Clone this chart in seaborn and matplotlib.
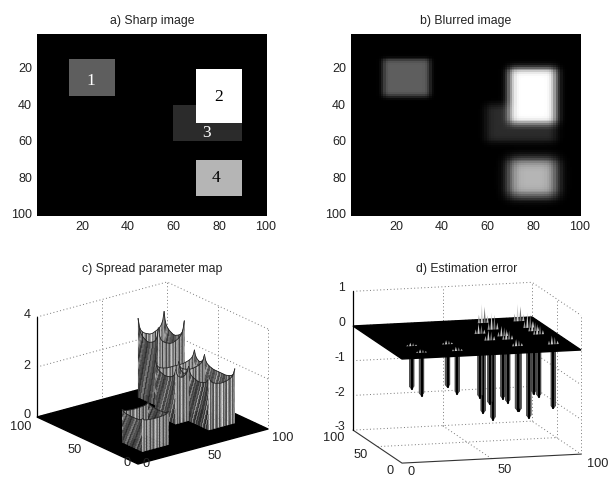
import numpy as np
import matplotlib
matplotlib.use("Agg")
import matplotlib.pyplot as plt
from matplotlib.collections import PolyCollection
import seaborn as sb

# regions of the test image: x0, x1, y0, y1
region_names = ["1", "2", "3", "4"]
region_x = [(14, 34), (69, 89), (59, 89), (69, 89)]
region_y = [(14, 34), (19, 49), (39, 59), (69, 89)]
region_gray = [0.37, 1.0, 0.17, 0.71]
region_spread = [1.25, 1.85, 1.85, 2.6]
label_pos = [(23.3, 25.6), (78.9, 34.4), (73.5, 54.2), (78, 79)]
label_color = ["white", "black", "white", "black"]

image_ticks = [20, 40, 60, 80, 100]

# walls of the spread map, far ones first: x0, y0, x1, y1, height, corner rise
walls = [
    (70, 90, 90, 90, 2.4, 0.75), (90, 70, 90, 90, 2.4, 0.75),
    (70, 70, 70, 90, 2.4, 0.75), (70, 70, 90, 70, 2.4, 0.75),
    (60, 60, 90, 60, 1.75, 0.42), (90, 50, 90, 60, 1.75, 0.42),
    (90, 20, 90, 50, 1.75, 0.42), (70, 50, 90, 50, 1.75, 0.42),
    (70, 40, 70, 50, 1.75, 0.42), (70, 20, 70, 40, 1.75, 0.42),
    (60, 40, 60, 60, 1.75, 0.42), (60, 40, 70, 40, 1.75, 0.42),
    (70, 20, 90, 20, 1.75, 0.42),
    (15, 35, 35, 35, 1.2, 0.12), (35, 15, 35, 35, 1.2, 0.12),
    (15, 15, 15, 35, 1.2, 0.12), (15, 15, 35, 15, 1.2, 0.12),
]
corner_rise = [1.0, 0.55, 0.35, 0.25, 0.18, 0.13, 0.09, 0.06, 0.03, 0.0]
front_shades = [0.85, 0.35, 0.65, 0.22, 0.8, 0.5, 0.28, 0.75, 0.3, 0.6]
side_shades = [0.2, 0.35, 0.22, 0.55, 0.15, 0.3, 0.65, 0.2, 0.4, 0.18]

# estimation error: spikes at region corners x, y, depth, peak above plane
spike_x = [15, 15, 35, 35, 70, 70, 90, 90, 70, 90, 90, 70, 60, 60, 90, 70]
spike_y = [35, 15, 35, 15, 90, 70, 90, 70, 20, 20, 50, 50, 40, 60, 60, 40]
spike_z = [-1.24, -1.24, -1.24, -1.24, -2.6, -2.6, -2.6, -2.6,
           -1.86, -1.85, -1.8, -1.8, -1.84, -1.84, -1.8, -1.82]
peak_z = [0.1, 0.1, 0.12, 0.12, 0.55, 0.5, 0.5, 0.45,
          0.2, 0.25, 0.3, 0.3, 0.3, 0.3, 0.3, 0.3]

sb.set_theme(style="white")
plt.rcParams['font.family'] = ['Liberation Sans', 'DejaVu Sans']
TEXT = "#222222"
W, H = 608, 478

fig = plt.figure(figsize=(W / 100, H / 100), dpi=100)


def blur(mask, sigma):
    # what the spread map does to one region: gaussian, rows then columns
    r = np.arange(-12, 13)
    k = np.exp(-r ** 2 / (2 * sigma ** 2))
    k = k / k.sum()
    out = np.apply_along_axis(lambda m: np.convolve(m, k, mode="same"), 0, mask)
    return np.apply_along_axis(lambda m: np.convolve(m, k, mode="same"), 1, out)


## sharp and blurred image
sharp = np.zeros((100, 100))
blurred = np.zeros((100, 100))
for i in [2, 1, 0, 3]:
    (x0, x1), (y0, y1) = region_x[i], region_y[i]
    sharp[y0:y1, x0:x1] = region_gray[i]
for i in range(4):
    (x0, x1), (y0, y1) = region_x[i], region_y[i]
    mask = np.zeros((100, 100))
    mask[y0:y1, x0:x1] = region_gray[i]
    if region_names[i] == "3":
        mask[19:49, 69:89] = 0
    blurred += blur(mask, region_spread[i])


def image_panel(left, data, title):
    ax = fig.add_axes([left / W, 1 - 216 / H, 230 / W, 182 / H])
    sb.heatmap(data, ax=ax, cmap="gray", vmin=0, vmax=1, cbar=False,
               square=False, rasterized=True)
    ax.set_xticks([t - 0.5 for t in image_ticks], image_ticks, rotation=0)
    ax.set_yticks([t - 0.5 for t in image_ticks], image_ticks, rotation=0)
    ax.tick_params(length=0, labelsize=9, labelcolor=TEXT, pad=3.5)
    ax.set_title(title, fontsize=8.8, color=TEXT, pad=7)
    return ax


ax_a = image_panel(37, sharp, "a) Sharp image")
image_panel(351, blurred, "b) Blurred image")
for name, (lx, ly), col in zip(region_names, label_pos, label_color):
    ax_a.text(lx, ly, name, color=col, family="Liberation Serif", fontsize=12.5,
              ha="center", va="center")

## both 3d panels are drawn in pixel coordinates on one overlay
over = fig.add_axes([0, 0, 1, 1], facecolor="none")
over.set_xlim(0, W)
over.set_ylim(H, 0)
over.axis("off")


def projector(front, ex, ey, ez):
    def project(x, y, z):
        return (front[0] + ex[0] * x / 100 + ey[0] * y / 100,
                front[1] + ex[1] * x / 100 + ey[1] * y / 100 - ez * z)
    return project


def box_grid(project, zs, zbottom):
    dots = dict(color="#777777", lw=0.7, ls=(0, (1, 2.5)), zorder=1)
    for z in zs:
        pts = [project(0, 100, z), project(100, 100, z), project(100, 0, z)]
        over.plot(*zip(*pts), **dots)
    ztop = max(zs)
    for x, y in [(50, 100), (100, 100), (100, 50), (100, 0)]:
        over.plot(*zip(project(x, y, zbottom), project(x, y, ztop)), **dots)
    over.plot(*zip(project(0, 100, zbottom), project(0, 100, ztop)),
              color="black", lw=0.9, zorder=6)


## c) spread parameter map
proj_c = projector((138, 464), (130, -35), (-101, -47), 25)
box_grid(proj_c, [0, 2, 4], 0)
corners = [proj_c(0, 0, 0), proj_c(100, 0, 0), proj_c(100, 100, 0), proj_c(0, 100, 0)]
over.fill(*zip(*corners), color="black", zorder=2)

for order, (x0, y0, x1, y1, h, rise) in enumerate(walls):
    n = int(max(x1 - x0, y1 - y0))
    shades = front_shades if y0 == y1 else side_shades
    shift = 0 if y0 == y1 else 1
    polys, colors, top = [], [], []
    for i in range(n):
        u0, u1 = i / n, (i + 1) / n
        d0 = min(i, n - i)
        d1 = min(i + 1, n - i - 1)
        t0 = h + rise * corner_rise[min(d0, 9)]
        t1 = h + rise * corner_rise[min(d1, 9)]
        top.append(proj_c(x0 + (x1 - x0) * u0, y0 + (y1 - y0) * u0, t0))
        top.append(proj_c(x0 + (x1 - x0) * u1, y0 + (y1 - y0) * u1, t1))
        for j in range(10):
            a, b = j / 10, (j + 1) / 10
            polys.append([
                proj_c(x0 + (x1 - x0) * u0, y0 + (y1 - y0) * u0, t0 * a),
                proj_c(x0 + (x1 - x0) * u1, y0 + (y1 - y0) * u1, t1 * a),
                proj_c(x0 + (x1 - x0) * u1, y0 + (y1 - y0) * u1, t1 * b),
                proj_c(x0 + (x1 - x0) * u0, y0 + (y1 - y0) * u0, t0 * b),
            ])
            colors.append(str(shades[(i + shift * j) % len(shades)]))
    over.add_collection(PolyCollection(polys, facecolors=colors, edgecolors="face",
                                       linewidths=0.2, zorder=3 + order * 0.01))
    over.plot(*zip(*top), color="#222222", lw=0.6, zorder=3 + order * 0.01)

txt = dict(fontsize=9.2, color=TEXT, ha="center", va="center", zorder=7)
over.text(152, 269, "c) Spread parameter map", **{**txt, "fontsize": 8.8})
for z, (px, py) in zip([0, 2, 4], [(27, 415), (27, 366), (27, 315)]):
    over.text(px, py, str(z), **txt)
for v, (px, py) in zip([100, 50, 0], [(21, 427), (75, 450), (127, 463)]):
    over.text(px, py, str(v), **txt)
for v, (px, py) in zip([0, 50, 100], [(146, 464), (215, 456), (283, 438)]):
    over.text(px, py, str(v), **txt)

## d) estimation error
proj_d = projector((402, 359), (179, -9), (-49, -33), 34.7)
box_grid(proj_d, [-3, -2, -1, 0, 1], -3)
dots = dict(color="#777777", lw=0.7, ls=(0, (1, 2.5)), zorder=1)
over.plot(*zip(proj_d(50, 0, -3), proj_d(50, 100, -3)), **dots)
over.plot(*zip(proj_d(0, 50, -3), proj_d(100, 50, -3)), **dots)
floor_edge = [proj_d(0, 100, -3), proj_d(0, 0, -3), proj_d(100, 0, -3)]
over.plot(*zip(*floor_edge), color="#333333", lw=0.8, zorder=2)

for x, y, z in zip(spike_x, spike_y, spike_z):
    outline = [proj_d(x - 1.3, y, 0), proj_d(x - 1.3, y, z + 0.08), proj_d(x, y, z),
               proj_d(x + 1.3, y, z + 0.08), proj_d(x + 1.3, y, 0)]
    over.fill(*zip(*outline), facecolor="#5a5a5a", edgecolor="#333333", lw=0.5, zorder=3)
    over.plot(*zip(proj_d(x, y, 0), proj_d(x, y, z)), color="black", lw=1.6, zorder=3)
plane = [proj_d(0, 0, 0), proj_d(100, 0, 0), proj_d(100, 100, 0), proj_d(0, 100, 0)]
over.fill(*zip(*plane), color="black", zorder=4)
for x, y, z in zip(spike_x, spike_y, peak_z):
    for dx, f, c in [(-2.4, 0.45, "#999999"), (-0.8, 1.0, "#cccccc"),
                     (0.8, 0.85, "#777777"), (2.4, 0.4, "#bbbbbb")]:
        tri = [proj_d(x + dx - 0.65, y, 0), proj_d(x + dx, y, z * f), proj_d(x + dx + 0.65, y, 0)]
        over.fill(*zip(*tri), color=c, lw=0, zorder=5)

over.text(467, 269, "d) Estimation error", **{**txt, "fontsize": 8.8})
for z, py in zip([1, 0, -1, -2, -3], [288, 323, 358, 393, 427]):
    over.text(345, py, str(z), **{**txt, "ha": "right", "fontsize": 8.8})
for v, (px, py) in zip([100, 50, 0], [(334, 438), (361, 455), (390, 471)]):
    over.text(px, py, str(v), **txt)
for v, (px, py) in zip([0, 50, 100], [(411, 472), (505, 470), (598, 464)]):
    over.text(px, py, str(v), **txt)

fig.savefig("out.png", dpi=100, facecolor="white")
